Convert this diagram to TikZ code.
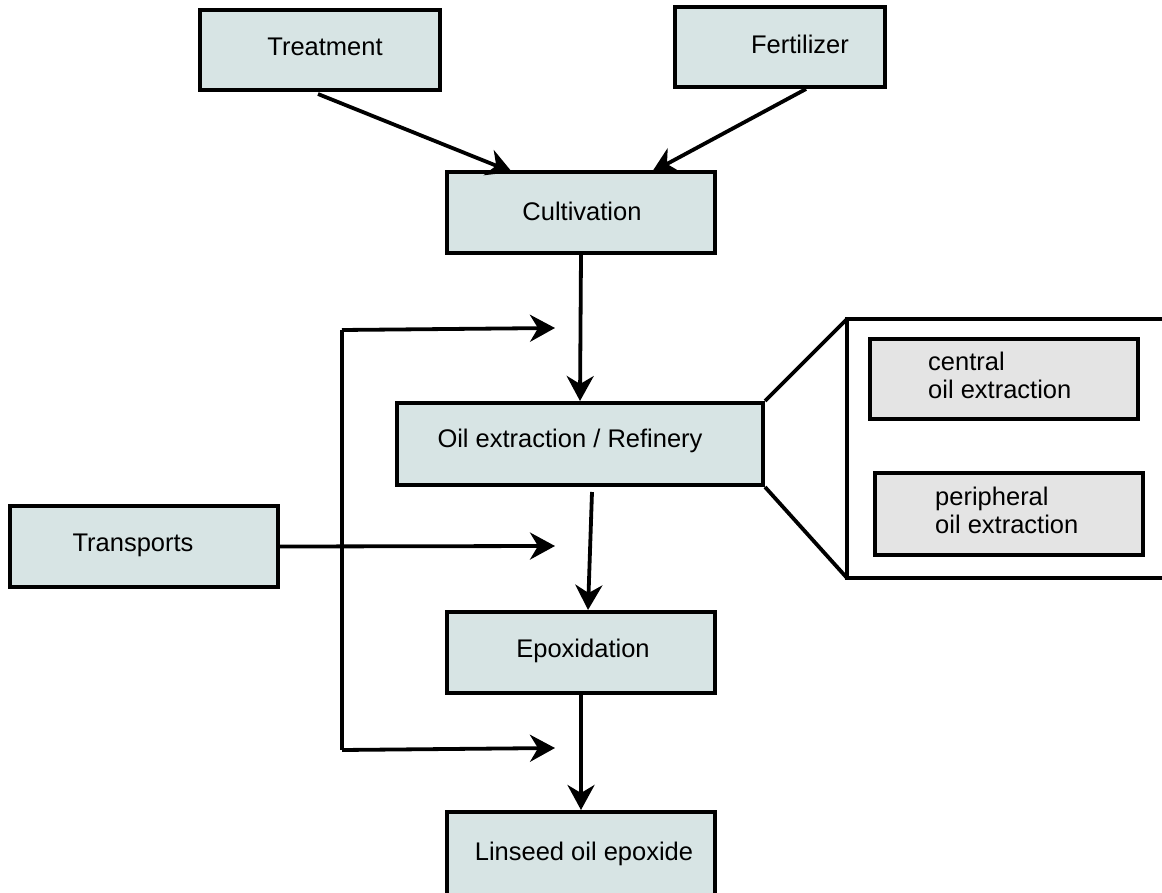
\documentclass[tikz,border=0pt]{standalone}
\usepackage{fontspec}
\setmainfont{Liberation Sans}
\usetikzlibrary{arrows.meta}
\definecolor{boxfill}{HTML}{D7E4E4}
\definecolor{greyfill}{HTML}{E4E4E4}
\tikzset{
  box/.style={draw=black, line width=4pt, fill=boxfill, inner sep=0pt},
  gbox/.style={draw=black, line width=3.5pt, fill=greyfill, inner sep=0pt},
  lbl/.style={font=\fontsize{25.5}{28}\selectfont, inner sep=0pt},
  arr/.style={line width=3.8pt, -{Stealth[length=25pt,width=27pt,inset=8pt]}},
  ln/.style={line width=3.8pt},
}
\begin{document}
\begin{tikzpicture}[x=1pt,y=-1pt]
\useasboundingbox (0,0) rectangle (1162,893);
\clip (0,0) rectangle (1162,893);
% boxes
\node[box, minimum width=240pt, minimum height=80pt] (treat) at (320,50) {};
\node[box, minimum width=210pt, minimum height=80pt] (fert) at (780,47) {};
\node[box, minimum width=268pt, minimum height=81pt] (cult) at (581,212.5) {};
\node[box, minimum width=366pt, minimum height=82pt] (oil) at (580,444) {};
\node[box, minimum width=268pt, minimum height=81pt] (trans) at (144,546.5) {};
\node[box, minimum width=268pt, minimum height=81pt] (epox) at (581,652.5) {};
\node[box, minimum width=268pt, minimum height=100pt] (lins) at (581,862) {};
% labels
\node[lbl] (treatT) at (325,47) {Treatment};
\node[lbl] (fertT) at (800,44) {Fertilizer};
\node[lbl] (cultT) at (582,211) {Cultivation};
\node[lbl] (oilT) at (570,441) {Oil extraction / Refinery};
\node[lbl] (transT) at (133,545) {Transports};
\node[lbl] (epoxT) at (583,651) {Epoxidation};
\node[lbl] (linsT) at (584,854) {Linseed oil epoxide};
% zoom panel
\coordinate (pTL) at (847,319);
\coordinate (pBL) at (847,578);
\coordinate (pTR) at (1170,319);
\coordinate (pBR) at (1170,578);
\draw[ln] (pTR) -- (pTL) -- (pBL) -- (pBR);
\draw[ln] (oil.north east) -- (pTL);
\draw[ln] (oil.south east) -- (pBL);
\node[gbox, minimum width=268pt, minimum height=80pt] (cen) at (1004,379) {};
\node[gbox, minimum width=268pt, minimum height=82pt] (per) at (1009,514) {};
\node[lbl, align=left, anchor=west] (cenT) at (928,375) {central\\oil extraction};
\node[lbl, align=left, anchor=west] (perT) at (935,510) {peripheral\\oil extraction};
% arrows
\coordinate (a1) at (318,94);
\coordinate (a1e) at (512,172);
\coordinate (a2) at (806,89);
\coordinate (a2e) at (652,172);
\draw[arr] (a1) -- (a1e);
\draw[arr] (a2) -- (a2e);
\draw[arr] (cult.south) -- (oil.north);
\coordinate (o1) at (592,492);
\coordinate (o1e) at (588,610);
\draw[arr] (o1) -- (o1e);
\draw[arr] (epox.south) -- (lins.north);
\coordinate (t1) at (555,546);
\draw[arr] (trans.east) -- (t1);
\coordinate (fTop) at (342,330);
\coordinate (fBot) at (342,750);
\coordinate (fTopE) at (555,328);
\coordinate (fBotE) at (555,748);
\draw[ln] (fTop) -- (fBot);
\draw[arr] (fTop) -- (fTopE);
\draw[arr] (fBot) -- (fBotE);
\end{tikzpicture}
\end{document}
